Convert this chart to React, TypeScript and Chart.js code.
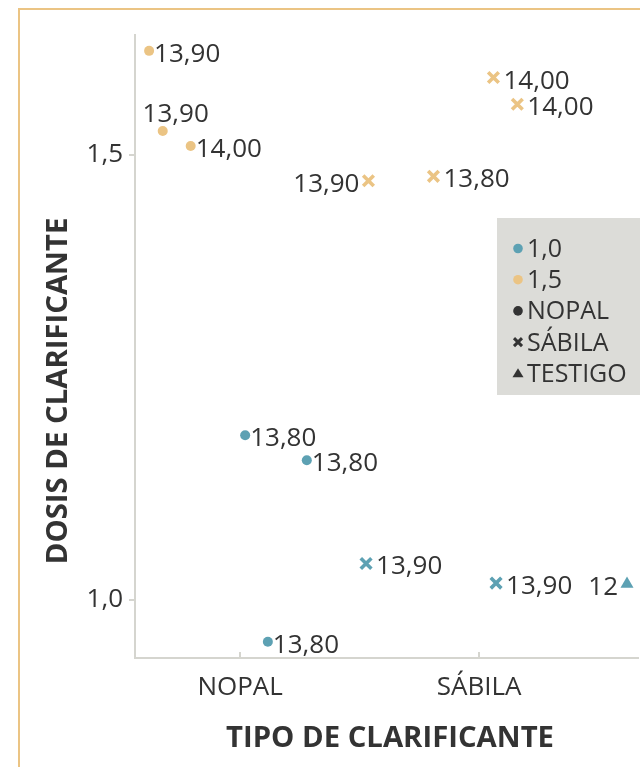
import React, { useEffect, useRef } from 'react';
import { Chart, registerables } from 'chart.js';

Chart.register(...registerables);

// ---------- data ----------
const CATEGORIES = ['NOPAL', 'SÁBILA', 'TESTIGO'];
const CATEGORY_TICKS = [0, 1];
const DOSE_TICKS = [1.0, 1.5];
const DOSE_LEGEND = ['1,0', '1,5'];
const X_TITLE = 'TIPO DE CLARIFICANTE';
const Y_TITLE = 'DOSIS DE CLARIFICANTE';

// dose 1,5 – NOPAL (jittered category position, jittered dose, label)
const D15_NOPAL_X = [-0.381, -0.324, -0.207];
const D15_NOPAL_Y = [1.617, 1.527, 1.510];
const D15_NOPAL_BRIX = ['13,90', '13,90', '14,00'];
// dose 1,5 – SÁBILA
const D15_SABILA_X = [0.537, 0.809, 1.06, 1.16];
const D15_SABILA_Y = [1.471, 1.476, 1.587, 1.557];
const D15_SABILA_BRIX = ['13,90', '13,80', '14,00', '14,00'];
// dose 1,0 – NOPAL
const D10_NOPAL_X = [0.021, 0.279, 0.116];
const D10_NOPAL_Y = [1.185, 1.157, 0.953];
const D10_NOPAL_BRIX = ['13,80', '13,80', '13,80'];
// dose 1,0 – SÁBILA
const D10_SABILA_X = [0.527, 1.071];
const D10_SABILA_Y = [1.041, 1.019];
const D10_SABILA_BRIX = ['13,90', '13,90'];
// dose 1,0 – TESTIGO
const D10_TESTIGO_X = [1.619];
const D10_TESTIGO_Y = [1.018];
const D10_TESTIGO_BRIX = ['12'];

// ---------- style ----------
const ORANGE = '#EBC484';
const TEAL = '#5DA1B3';
const DARK = '#333333';
const AXIS = '#D5D5CF';
const FONT = "'Open Sans', sans-serif";

const LABEL_SIDE: Record<string, string> = { '0-1': 'top', '1-0': 'left', '4-0': 'left' };

const pts = (xs: number[], ys: number[]) => xs.map((x, i) => ({ x, y: ys[i] }));
const fmtDose = (v: number) => v.toFixed(1).replace('.', ',');

const customPlugin = {
  id: 'custom',
  afterDatasetsDraw(chart: any) {
    const ctx = chart.ctx;
    ctx.save();
    ctx.font = `26px ${FONT}`;
    ctx.fillStyle = DARK;
    ctx.textBaseline = 'alphabetic';
    chart.data.datasets.forEach((ds: any, di: number) => {
      const meta = chart.getDatasetMeta(di);
      meta.data.forEach((el: any, i: number) => {
        const text = ds.brix[i];
        const side = LABEL_SIDE[`${di}-${i}`] || 'right';
        const gap = ds.pointStyle === 'circle' ? 5 : 10;
        let x = el.x;
        let y = el.y + 11;
        if (side === 'right') {
          ctx.textAlign = 'left';
          x = el.x + gap;
        } else if (side === 'left') {
          ctx.textAlign = 'right';
          x = el.x - 9;
        } else {
          ctx.textAlign = 'center';
          x = el.x + 13;
          y = el.y - 9;
        }
        ctx.fillText(text, x, y);
      });
    });
    ctx.restore();
  },
  afterDraw(chart: any) {
    const ctx = chart.ctx;
    const { chartArea } = chart;
    const xs = chart.scales.x;
    ctx.save();
    ctx.strokeStyle = AXIS;
    ctx.lineWidth = 2;
    CATEGORY_TICKS.forEach((v) => {
      const px = Math.round(xs.getPixelForValue(v));
      ctx.beginPath();
      ctx.moveTo(px, chartArea.bottom - 6);
      ctx.lineTo(px, chartArea.bottom);
      ctx.stroke();
    });

    ctx.fillStyle = DARK;
    ctx.font = `bold 29.3px ${FONT}`;
    ctx.textAlign = 'center';
    ctx.textBaseline = 'alphabetic';
    ctx.fillText(X_TITLE, 390, 747);
    ctx.save();
    ctx.translate(67, 391);
    ctx.rotate(-Math.PI / 2);
    ctx.fillText(Y_TITLE, 0, 0);
    ctx.restore();

    const lx = 497;
    const ly = 218;
    ctx.fillStyle = '#DCDCD8';
    ctx.fillRect(lx, ly, 160, 177);
    const items = [
      { m: 'circle', c: TEAL, t: DOSE_LEGEND[0] },
      { m: 'circle', c: ORANGE, t: DOSE_LEGEND[1] },
      { m: 'circle', c: DARK, t: CATEGORIES[0] },
      { m: 'cross', c: DARK, t: CATEGORIES[1] },
      { m: 'triangle', c: DARK, t: CATEGORIES[2] },
    ];
    ctx.font = `25px ${FONT}`;
    ctx.textAlign = 'left';
    items.forEach((it, i) => {
      const base = ly + 39 + i * 31.2;
      const mx = lx + 21;
      const my = base - 8.5;
      ctx.fillStyle = it.c;
      ctx.strokeStyle = it.c;
      if (it.m === 'circle') {
        ctx.beginPath();
        ctx.arc(mx, my, 4.8, 0, Math.PI * 2);
        ctx.fill();
      } else if (it.m === 'cross') {
        ctx.lineWidth = 3;
        ctx.beginPath();
        ctx.moveTo(mx - 4, my - 4);
        ctx.lineTo(mx + 4, my + 4);
        ctx.moveTo(mx + 4, my - 4);
        ctx.lineTo(mx - 4, my + 4);
        ctx.stroke();
      } else {
        ctx.beginPath();
        ctx.moveTo(mx, my - 5);
        ctx.lineTo(mx + 5.5, my + 4);
        ctx.lineTo(mx - 5.5, my + 4);
        ctx.closePath();
        ctx.fill();
      }
      ctx.fillStyle = DARK;
      ctx.fillText(it.t, lx + 30, base);
    });
    ctx.restore();
  },
};

export default function App() {
  const ref = useRef<HTMLCanvasElement>(null);

  useEffect(() => {
    Chart.defaults.font.family = FONT;
    const circle = { pointStyle: 'circle', pointRadius: 5, borderWidth: 0 };
    const cross = { pointStyle: 'crossRot', pointRadius: 7.5, borderWidth: 3.6 };
    const chart = new Chart(ref.current as HTMLCanvasElement, {
      type: 'scatter',
      data: {
        datasets: [
          { label: 'd15n', data: pts(D15_NOPAL_X, D15_NOPAL_Y), brix: D15_NOPAL_BRIX, backgroundColor: ORANGE, borderColor: ORANGE, ...circle },
          { label: 'd15s', data: pts(D15_SABILA_X, D15_SABILA_Y), brix: D15_SABILA_BRIX, backgroundColor: ORANGE, borderColor: ORANGE, ...cross },
          { label: 'd10n', data: pts(D10_NOPAL_X, D10_NOPAL_Y), brix: D10_NOPAL_BRIX, backgroundColor: TEAL, borderColor: TEAL, ...circle },
          { label: 'd10s', data: pts(D10_SABILA_X, D10_SABILA_Y), brix: D10_SABILA_BRIX, backgroundColor: TEAL, borderColor: TEAL, ...cross },
          { label: 'd10t', data: pts(D10_TESTIGO_X, D10_TESTIGO_Y), brix: D10_TESTIGO_BRIX, backgroundColor: TEAL, borderColor: TEAL, pointStyle: 'triangle', pointRadius: 7.5, borderWidth: 0 },
        ] as any,
      },
      options: {
        animation: false,
        responsive: false,
        devicePixelRatio: 1,
        layout: { autoPadding: false, padding: { top: 35, right: 2, left: 0, bottom: 0 } },
        plugins: { legend: { display: false }, tooltip: { enabled: false } },
        scales: {
          x: {
            type: 'linear',
            min: -0.44,
            max: 1.665,
            afterBuildTicks: (s: any) => {
              s.ticks = CATEGORY_TICKS.map((v) => ({ value: v }));
            },
            afterFit: (s: any) => {
              s.height = 109;
            },
            ticks: {
              callback: (v: any) => CATEGORIES[v as number],
              font: { size: 26, family: FONT },
              color: DARK,
              padding: 14,
              maxRotation: 0,
              autoSkip: false,
            },
            grid: { display: false, drawTicks: false },
            border: { display: true, color: AXIS, width: 2 },
          },
          y: {
            type: 'linear',
            min: 0.9348,
            max: 1.6348,
            afterBuildTicks: (s: any) => {
              s.ticks = DOSE_TICKS.map((v) => ({ value: v }));
            },
            afterFit: (s: any) => {
              s.width = 135;
            },
            ticks: {
              callback: (v: any) => fmtDose(v as number),
              font: { size: 26, family: FONT },
              color: DARK,
              padding: 6,
              autoSkip: false,
            },
            grid: { drawOnChartArea: false, drawTicks: true, tickLength: 6, color: AXIS, lineWidth: 2 },
            border: { display: true, color: AXIS, width: 2 },
          },
        },
      },
      plugins: [customPlugin],
    } as any);
    return () => chart.destroy();
  }, []);

  return (
    <div style={{ position: 'fixed', left: 0, top: 0, width: 640, height: 767, overflow: 'hidden', background: '#ffffff' }}>
      <div
        style={{
          position: 'absolute',
          left: 18,
          top: 8,
          width: 800,
          height: 900,
          borderLeft: `2px solid ${ORANGE}`,
          borderTop: `2px solid ${ORANGE}`,
        }}
      />
      <canvas ref={ref} width={640} height={767} style={{ position: 'absolute', left: 0, top: 0, width: 640, height: 767 }} />
    </div>
  );
}
